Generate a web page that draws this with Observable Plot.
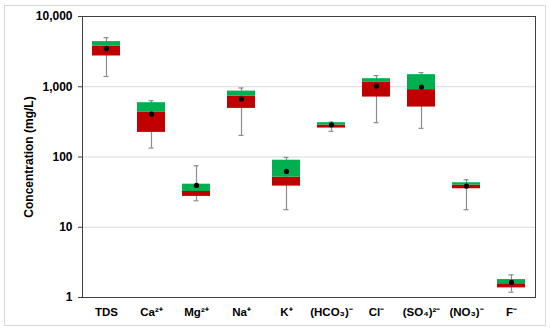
<!DOCTYPE html>
<html>
<head>
<meta charset="utf-8">
<script src="https://cdn.jsdelivr.net/npm/d3@7"></script>
<script src="https://cdn.jsdelivr.net/npm/@observablehq/plot@0.6"></script>
<style>
  html, body { margin: 0; padding: 0; background: #fff; }
  #wrap { position: relative; width: 550px; height: 332px; }
  #border { position: absolute; left: 4px; top: 5px; width: 540px; height: 319px; border: 1px solid #d9d9d9; pointer-events: none; }
  svg { font-family: "Liberation Sans", Arial, sans-serif; }
</style>
</head>
<body>
<div id="wrap"><div id="border"></div></div>
<script>
const categories = ["TDS", "Ca²⁺", "Mg²⁺", "Na⁺", "K⁺", "(HCO₃)⁻", "Cl⁻", "(SO₄)²⁻", "(NO₃)⁻", "F⁻"];
const minVals    = [1400, 134, 23.8, 203, 17.8, 232, 308, 256, 17.8, 1.19];
const q1Vals     = [2740, 224, 27.5, 492, 38.5, 258, 713, 514, 35.3, 1.37];
const medianVals = [3800, 432, 32.3, 738, 51.7, 285, 1155, 910, 39.8, 1.57];
const q3Vals     = [4390, 593, 41, 867, 90, 308, 1303, 1487, 43, 1.80];
const maxVals    = [5000, 633, 75, 960, 98.7, 314, 1440, 1590, 47.5, 2.1];
const meanVals   = [3480, 408, 39.4, 668, 62.3, 288, 1023, 990, 38.5, 1.64];
const yTicks = [1, 10, 100, 1000, 10000];
const yLabel = "Concentration (mg/L)";

const data = categories.map((c, i) => ({
  cat: c, min: minVals[i], q1: q1Vals[i], med: medianVals[i],
  q3: q3Vals[i], max: maxVals[i], mean: meanVals[i]
}));

const chart = Plot.plot({
  width: 550,
  height: 332,
  marginTop: 16,
  marginBottom: 35,
  marginLeft: 82,
  marginRight: 15,
  style: { fontFamily: "'Liberation Sans', Arial, sans-serif", fontSize: "11.5px", fontWeight: "bold", color: "#000", background: "transparent" },
  x: { domain: categories, paddingInner: 0.38, paddingOuter: 0.19, label: null },
  y: { type: "log", domain: [1, 10000], label: null },
  marks: [
    Plot.gridY([10, 100, 1000], { stroke: "#d9d9d9", strokeOpacity: 1, strokeWidth: 1.2 }),
    Plot.ruleX(data, { x: "cat", y1: "min", y2: "max", stroke: "#8c8c8c", strokeWidth: 1.2 }),
    Plot.tickY(data, { x: "cat", y: "min", stroke: "#8c8c8c", strokeWidth: 1.2, insetLeft: 11.5, insetRight: 11.5 }),
    Plot.tickY(data, { x: "cat", y: "max", stroke: "#8c8c8c", strokeWidth: 1.2, insetLeft: 11.5, insetRight: 11.5 }),
    Plot.barY(data, { x: "cat", y1: "q1", y2: "med", fill: "#c00000" }),
    Plot.barY(data, { x: "cat", y1: "med", y2: "q3", fill: "#00b050" }),
    Plot.dot(data, { x: "cat", y: "mean", r: 2.6, fill: "#000", stroke: "none" }),
    Plot.frame({ stroke: "#404040", strokeWidth: 1 }),
    Plot.axisY({ ticks: yTicks, tickFormat: d3.format(","), tickSize: 4, tickPadding: 6, stroke: "#404040",
                 label: yLabel, labelAnchor: "center", labelArrow: false, labelOffset: 58, fontSize: 12 }),
    Plot.axisX({ tickSize: 0, tickPadding: 10, label: null, fontSize: 11.5 })
  ]
});
document.getElementById("wrap").prepend(chart);
</script>
</body>
</html>
